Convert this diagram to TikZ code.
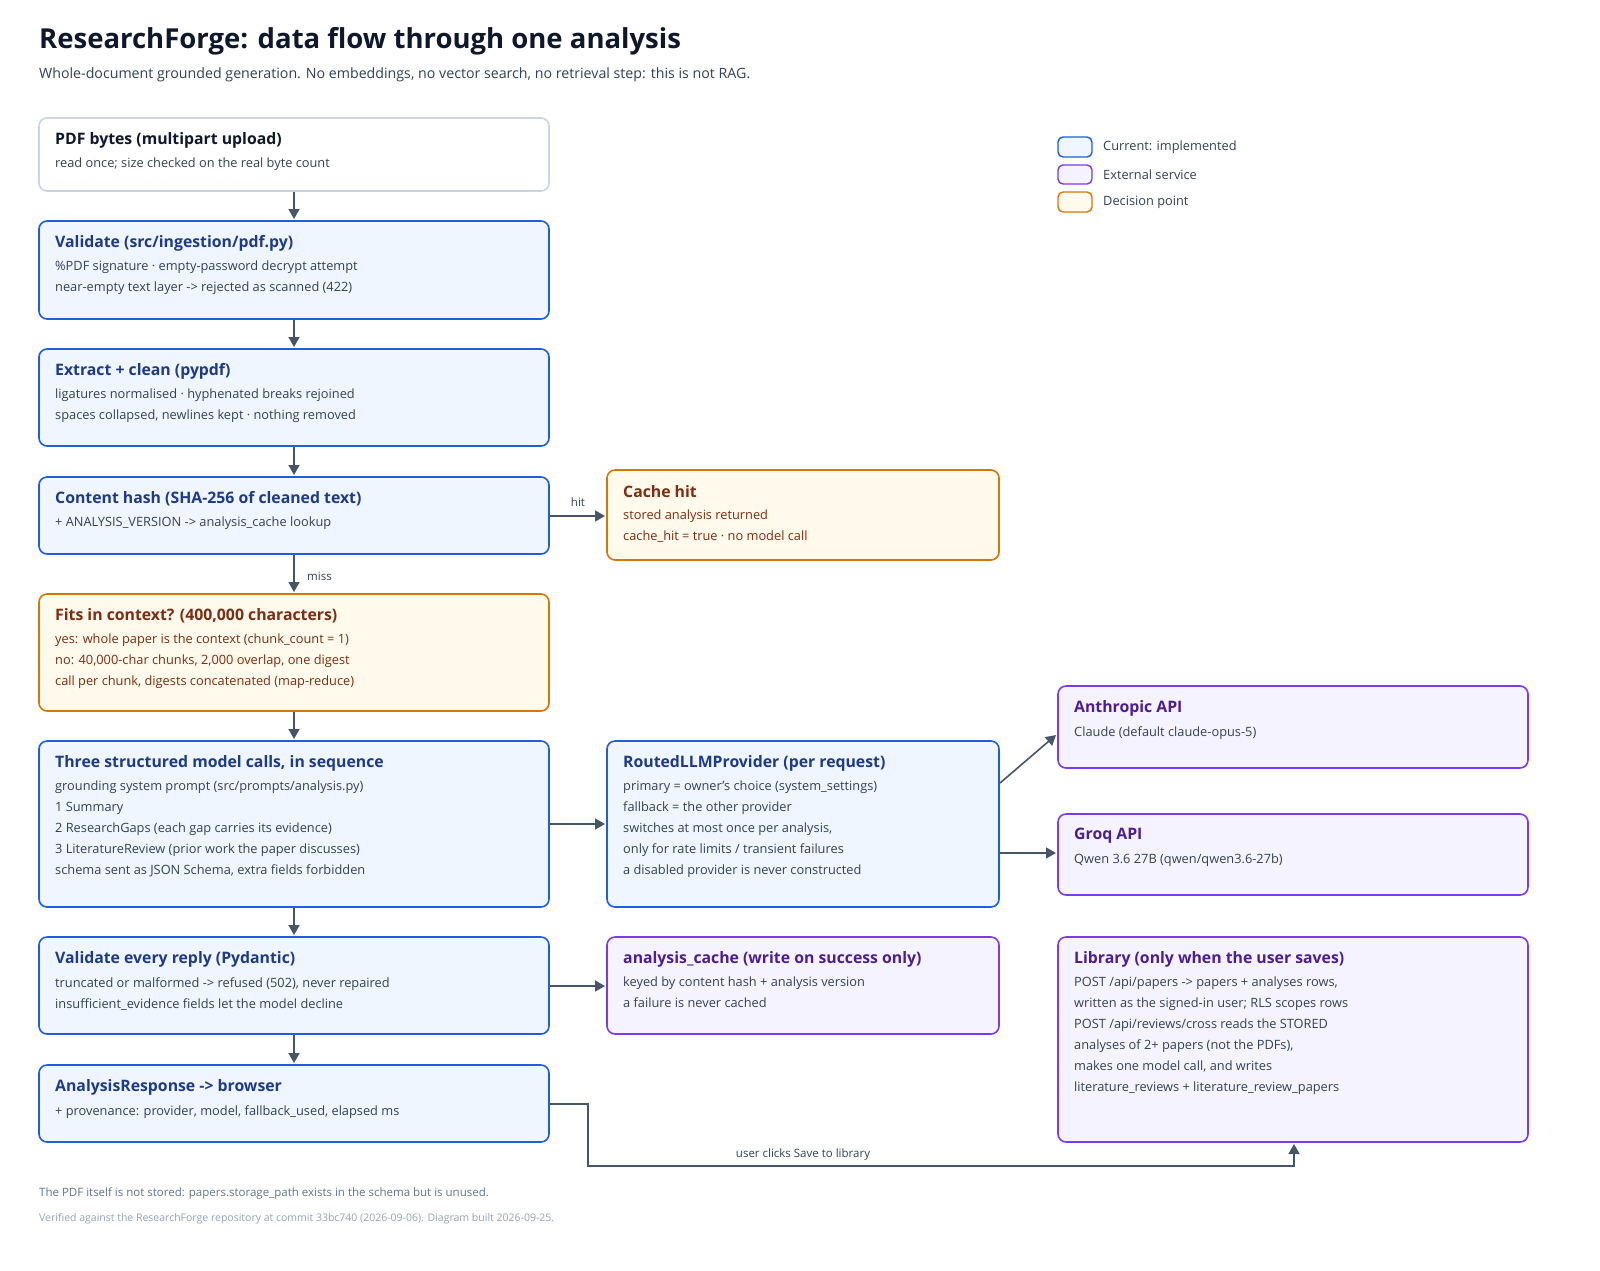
\documentclass[tikz,border=0pt]{standalone}
\usepackage{fontspec}
\setmainfont{Open Sans}
\usetikzlibrary{arrows.meta}
\definecolor{bB}{HTML}{1D5FE0}\definecolor{bF}{HTML}{EFF6FF}\definecolor{bT}{HTML}{1E3A8A}
\definecolor{oB}{HTML}{D97706}\definecolor{oF}{HTML}{FFFAEB}\definecolor{oT}{HTML}{7C2D12}
\definecolor{pB}{HTML}{7C3AED}\definecolor{pF}{HTML}{F5F3FF}\definecolor{pT}{HTML}{4C1D95}
\definecolor{gB}{HTML}{CBD5E1}\definecolor{ink}{HTML}{0F172A}\definecolor{body}{HTML}{334155}
\definecolor{arr}{HTML}{475569}\definecolor{mut}{HTML}{64748B}\definecolor{mut2}{HTML}{94A3B8}
\begin{document}
\begin{tikzpicture}[x=1pt,y=-1pt,
 box/.style={draw,rounded corners=8pt,line width=1.6pt},
 blue/.style={box,draw=bB,fill=bF},
 orange/.style={box,draw=oB,fill=oF},
 purple/.style={box,draw=pB,fill=pF},
 gray/.style={box,draw=gB,fill=white},
 ttl/.style={anchor=west,inner sep=0,font=\fontsize{15.8}{18}\selectfont\bfseries},
 bd/.style={anchor=north west,inner sep=0,align=left,font=\fontsize{12.8}{21}\selectfont},
 ar/.style={draw=arr,line width=1.6pt,-{Triangle[length=10pt,width=11pt]}},
 lbl/.style={font=\fontsize{11.5}{13}\selectfont,text=body,inner sep=0}]
\useasboundingbox (0,0) rectangle (1600,1270);
\fill[white] (0,0) rectangle (1600,1270);
\node[anchor=west,inner sep=0,font=\fontsize{27.5}{30}\selectfont\bfseries,text=ink] (title) at (39,41) {ResearchForge: data flow through one analysis};
\node[anchor=west,inner sep=0,font=\fontsize{14.2}{16}\selectfont,text=body] (sub) at (39,75) {Whole-document grounded generation. No embeddings, no vector search, no retrieval step: this is not RAG.};
\newcommand{\bx}[9]{%
 \path[#6] (#2,#3) rectangle (#4,#5);
 \node[ttl,text=#8] (#1t) at (#2+16,#3+22) {#7};
 \node[bd,text=#8] (#1b) at (#2+16,#3+40) {#9};
 \coordinate (#1) at ({(#2+#4)/2},{(#3+#5)/2});}
\bx{pdf}{39}{118}{549}{191}{gray}{PDF bytes (multipart upload)}{ink}{\color{body}read once; size checked on the real byte count}
\bx{val}{39}{221}{549}{319}{blue}{Validate (src/ingestion/pdf.py)}{bT}{\color{body}\%PDF signature · empty-password decrypt attempt\\\color{body}near-empty text layer -> rejected as scanned (422)}
\bx{ext}{39}{349}{549}{446}{blue}{Extract + clean (pypdf)}{bT}{\color{body}ligatures normalised · hyphenated breaks rejoined\\\color{body}spaces collapsed, newlines kept · nothing removed}
\bx{hash}{39}{477}{549}{554}{blue}{Content hash (SHA-256 of cleaned text)}{bT}{\color{body}+ ANALYSIS\_VERSION -> analysis\_cache lookup}
\bx{hit}{607}{470}{999}{560}{orange}{Cache hit}{oT}{stored analysis returned\\cache\_hit = true · no model call}
\bx{fit}{39}{594}{549}{711}{orange}{Fits in context? (400,000 characters)}{oT}{yes: whole paper is the context (chunk\_count = 1)\\no: 40,000-char chunks, 2,000 overlap, one digest\\call per chunk, digests concatenated (map-reduce)}
\bx{three}{39}{741}{549}{907}{blue}{Three structured model calls, in sequence}{bT}{\color{body}grounding system prompt (src/prompts/analysis.py)\\\color{body}1 Summary\\\color{body}2 ResearchGaps (each gap carries its evidence)\\\color{body}3 LiteratureReview (prior work the paper discusses)\\\color{body}schema sent as JSON Schema, extra fields forbidden}
\bx{rout}{607}{741}{999}{907}{blue}{RoutedLLMProvider (per request)}{bT}{\color{body}primary = owner's choice (system\_settings)\\\color{body}fallback = the other provider\\\color{body}switches at most once per analysis,\\\color{body}only for rate limits / transient failures\\\color{body}a disabled provider is never constructed}
\bx{anth}{1058}{686}{1528}{768}{purple}{Anthropic API}{pT}{\color{body}Claude (default claude-opus-5)}
\bx{groq}{1058}{814}{1528}{895}{purple}{Groq API}{pT}{\color{body}Qwen 3.6 27B (qwen/qwen3.6-27b)}
\bx{vev}{39}{937}{549}{1034}{blue}{Validate every reply (Pydantic)}{bT}{\color{body}truncated or malformed -> refused (502), never repaired\\\color{body}insufficient\_evidence fields let the model decline}
\bx{cache}{607}{937}{999}{1034}{purple}{analysis\_cache (write on success only)}{pT}{\color{body}keyed by content hash + analysis version\\\color{body}a failure is never cached}
\bx{lib}{1058}{937}{1528}{1142}{purple}{Library (only when the user saves)}{pT}{\color{body}POST /api/papers -> papers + analyses rows,\\\color{body}written as the signed-in user; RLS scopes rows\\\color{body}POST /api/reviews/cross reads the STORED\\\color{body}analyses of 2+ papers (not the PDFs),\\\color{body}makes one model call, and writes\\\color{body}literature\_reviews + literature\_review\_papers}
\bx{resp}{39}{1065}{549}{1142}{blue}{AnalysisResponse -> browser}{bT}{\color{body}+ provenance: provider, model, fallback\_used, elapsed ms}
\path[blue,rounded corners=5pt,line width=1.4pt] (1058,137) rectangle (1092,157);
\path[purple,rounded corners=5pt,line width=1.4pt] (1058,165) rectangle (1092,184);
\path[orange,rounded corners=5pt,line width=1.4pt] (1058,192) rectangle (1092,212);
\node[lbl,anchor=west,font=\fontsize{12.8}{14}\selectfont] (l1) at (1103,147) {Current: implemented};
\node[lbl,anchor=west,font=\fontsize{12.8}{14}\selectfont] (l2) at (1103,175) {External service};
\node[lbl,anchor=west,font=\fontsize{12.8}{14}\selectfont] (l3) at (1103,202) {Decision point};
\draw[ar] (294,192) -- (294,219);
\draw[ar] (294,320) -- (294,347);
\draw[ar] (294,447) -- (294,475);
\draw[ar] (294,555) -- (294,592);
\draw[ar] (294,712) -- (294,739);
\draw[ar] (294,908) -- (294,935);
\draw[ar] (294,1035) -- (294,1063);
\node[lbl,anchor=west] (miss) at (307,576) {miss};
\draw[ar] (549,516) -- (605,516);
\node[lbl] (hitl) at (578,502) {hit};
\draw[ar] (549,824) -- (605,824);
\draw[ar] (1000,783) -- (1056,735);
\draw[ar] (1000,853) -- (1056,853);
\draw[ar] (549,986) -- (605,986);
\draw[ar] (549,1104) -- (588,1104) -- (588,1166) -- (1294,1166) -- (1294,1144);
\node[lbl] (save) at (803,1154) {user clicks Save to library};
\node[anchor=west,inner sep=0,font=\fontsize{11.5}{13}\selectfont,text=mut] (f1) at (39,1193) {The PDF itself is not stored: papers.storage\_path exists in the schema but is unused.};
\node[anchor=west,inner sep=0,font=\fontsize{10.5}{12}\selectfont,text=mut2] (f2) at (39,1219) {Verified against the ResearchForge repository at commit 33bc740 (2026-09-06). Diagram built 2026-09-25.};
\end{tikzpicture}
\end{document}
